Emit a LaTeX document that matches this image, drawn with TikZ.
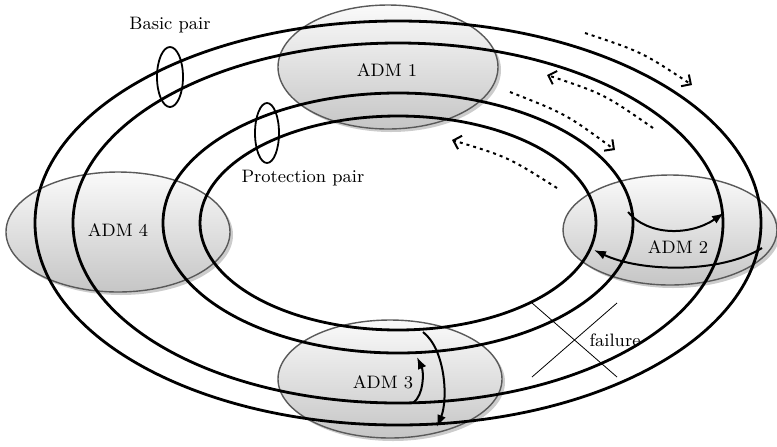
\documentclass[tikz,border=0pt]{standalone}
\usetikzlibrary{shapes.geometric,shadows,arrows.meta}
\begin{document}
\begin{tikzpicture}[x=0.5pt,y=-0.5pt,
    every node/.style={font=\small},
    adm/.style={ellipse,draw=black!65,line width=0.7pt,inner sep=0pt,
        top color=gray!4,bottom color=gray!45,
        drop shadow={shadow xshift=1.5pt,shadow yshift=-1.5pt,opacity=0.4}},
    ring/.style={line width=1.4pt},
    pair/.style={line width=0.9pt},
    back/.style={line width=1pt,-{Latex[length=6pt,width=4.5pt]}},
    flow/.style={line width=1pt,dash pattern=on 1.5pt off 2pt,
        -{Straight Barb[length=3.5pt,width=7pt]}}]
    \useasboundingbox (0,0) rectangle (777,446);
    \node[adm,minimum width=110pt,minimum height=62pt] (adm1) at (388,67) {};
    \node[adm,minimum width=107pt,minimum height=55pt] (adm2) at (670,230) {};
    \node[adm,minimum width=112pt,minimum height=59pt] (adm3) at (390,379) {};
    \node[adm,minimum width=112pt,minimum height=60pt] (adm4) at (118,232) {};
    \coordinate (ctr) at (398,223);
    \draw[ring] (ctr) ellipse [x radius=363,y radius=202];
    \draw[ring] (ctr) ellipse [x radius=325,y radius=180];
    \draw[ring] (ctr) ellipse [x radius=235,y radius=130];
    \draw[ring] (ctr) ellipse [x radius=198,y radius=107];
    \node (lbl1) at (387,70) {ADM 1};
    \node (lbl2) at (678,247) {ADM 2};
    \node (lbl3) at (383,382) {ADM 3};
    \node (lbl4) at (118,230) {ADM 4};
    \draw[pair] (170,77) ellipse [x radius=13,y radius=30];
    \node (basic) at (170,25) {Basic pair};
    \draw[pair] (267,133) ellipse [x radius=12,y radius=30];
    \node (prot) at (303,178) {Protection pair};
    \coordinate (fa) at (532,303);
    \coordinate (fb) at (617,377);
    \coordinate (fc) at (532,377);
    \coordinate (fd) at (617,303);
    \draw[thin] (fa) -- (fb);
    \draw[thin] (fc) -- (fd);
    \node (fail) at (615,340) {failure};
    \coordinate (s2a) at (628,212);
    \coordinate (e2a) at (724,213);
    \coordinate (s2b) at (762,248);
    \coordinate (e2b) at (594,250);
    \draw[back] (s2a) .. controls (648,236) and (690,236) .. (e2a);
    \draw[back] (s2b) .. controls (720,274) and (640,272) .. (e2b);
    \coordinate (s3a) at (413,403);
    \coordinate (e3a) at (417,357);
    \coordinate (s3b) at (423,332);
    \coordinate (e3b) at (437,427);
    \draw[back] (s3a) .. controls (424,395) and (424,372) .. (e3a);
    \draw[back] (s3b) .. controls (446,350) and (448,400) .. (e3b);
    \coordinate (d1s) at (585,33);
    \coordinate (d1e) at (692,85);
    \coordinate (d2s) at (653,128);
    \coordinate (d2e) at (547,75);
    \coordinate (d3s) at (510,92);
    \coordinate (d3e) at (615,150);
    \coordinate (d4s) at (557,188);
    \coordinate (d4e) at (452,140);
    \draw[flow] (d1s) .. controls (642,52) .. (d1e);
    \draw[flow] (d2s) .. controls (604,94) .. (d2e);
    \draw[flow] (d3s) .. controls (566,114) .. (d3e);
    \draw[flow] (d4s) .. controls (508,157) .. (d4e);
\end{tikzpicture}
\end{document}
